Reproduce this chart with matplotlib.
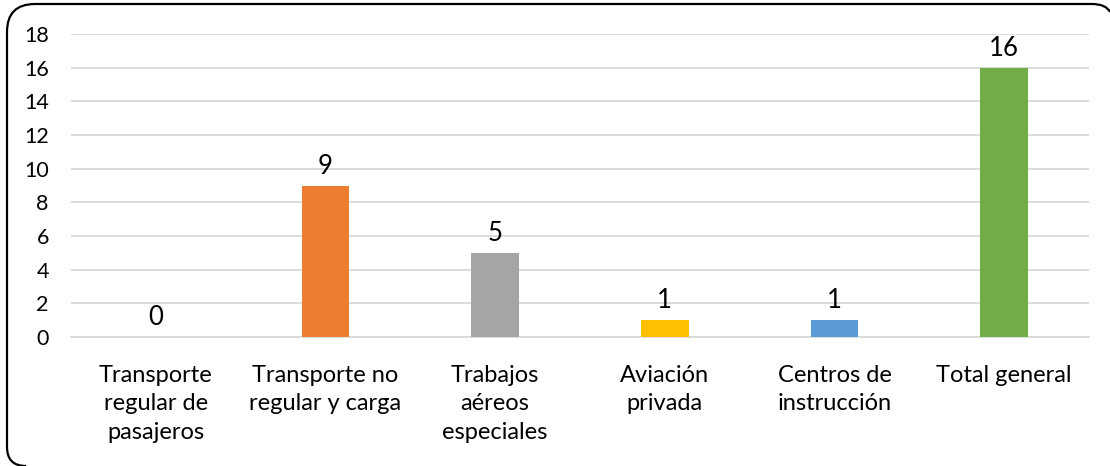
import matplotlib
matplotlib.use("Agg")
import matplotlib.pyplot as plt
from matplotlib.path import Path
from matplotlib.patches import PathPatch

categorias = ["Transporte\nregular de\npasajeros", "Transporte no\nregular y carga",
              "Trabajos\naéreos\nespeciales", "Aviación\nprivada",
              "Centros de\ninstrucción", "Total general"]
valores = [0, 9, 5, 1, 1, 16]
colores = ["#4472C4", "#ED7D31", "#A5A5A5", "#FFC000", "#5B9BD5", "#70AD47"]

plt.rcParams['font.family'] = ['Lato', 'DejaVu Sans']

W, H = 1110, 466
fig = plt.figure(figsize=(W / 100, H / 100), dpi=100)
ax = fig.add_axes([71/W, 1 - 337/H, (1089-71)/W, (337-34)/H])

x = range(len(valores))
bars = ax.bar(x, valores, width=0.28, color=colores, zorder=3)
for xi, v in zip(x, valores):
    ax.annotate(str(v), (xi, v), xytext=(0, 5), textcoords="offset points",
                ha="center", va="bottom", fontsize=18.5, color="#000000")

ax.set_xlim(-0.5, 5.5)
ax.set_ylim(0, 18)
ax.set_yticks(range(0, 19, 2))
ax.set_xticks(list(x))
ax.set_xticklabels(categorias, fontsize=17, linespacing=1.45)
ax.tick_params(axis="y", labelsize=15.5, length=0, pad=16)
ax.tick_params(axis="x", length=0, pad=20)
ax.grid(axis="y", color="#D9D9D9", linewidth=1.3, zorder=0)
for s in ["top", "right", "left"]:
    ax.spines[s].set_visible(False)
ax.spines["bottom"].set_color("#D9D9D9")
ax.spines["bottom"].set_linewidth(1.3)

# marco redondeado: solo la parte visible, en píxeles desde arriba
def px(a, b):
    return (a / W, 1 - b / H)

verts = [px(26, 466), px(7, 466), px(7, 447), px(7, 32), px(7, 4), px(35, 4),
         px(1092, 4), px(1106, 4), px(1110, 12)]
codes = [Path.MOVETO, Path.CURVE3, Path.CURVE3, Path.LINETO, Path.CURVE3, Path.CURVE3,
         Path.LINETO, Path.CURVE3, Path.CURVE3]
marco = PathPatch(Path(verts, codes), transform=fig.transFigure, fill=False,
                  edgecolor="black", linewidth=1.6)
fig.patches.append(marco)

fig.savefig("out.png", dpi=100)
